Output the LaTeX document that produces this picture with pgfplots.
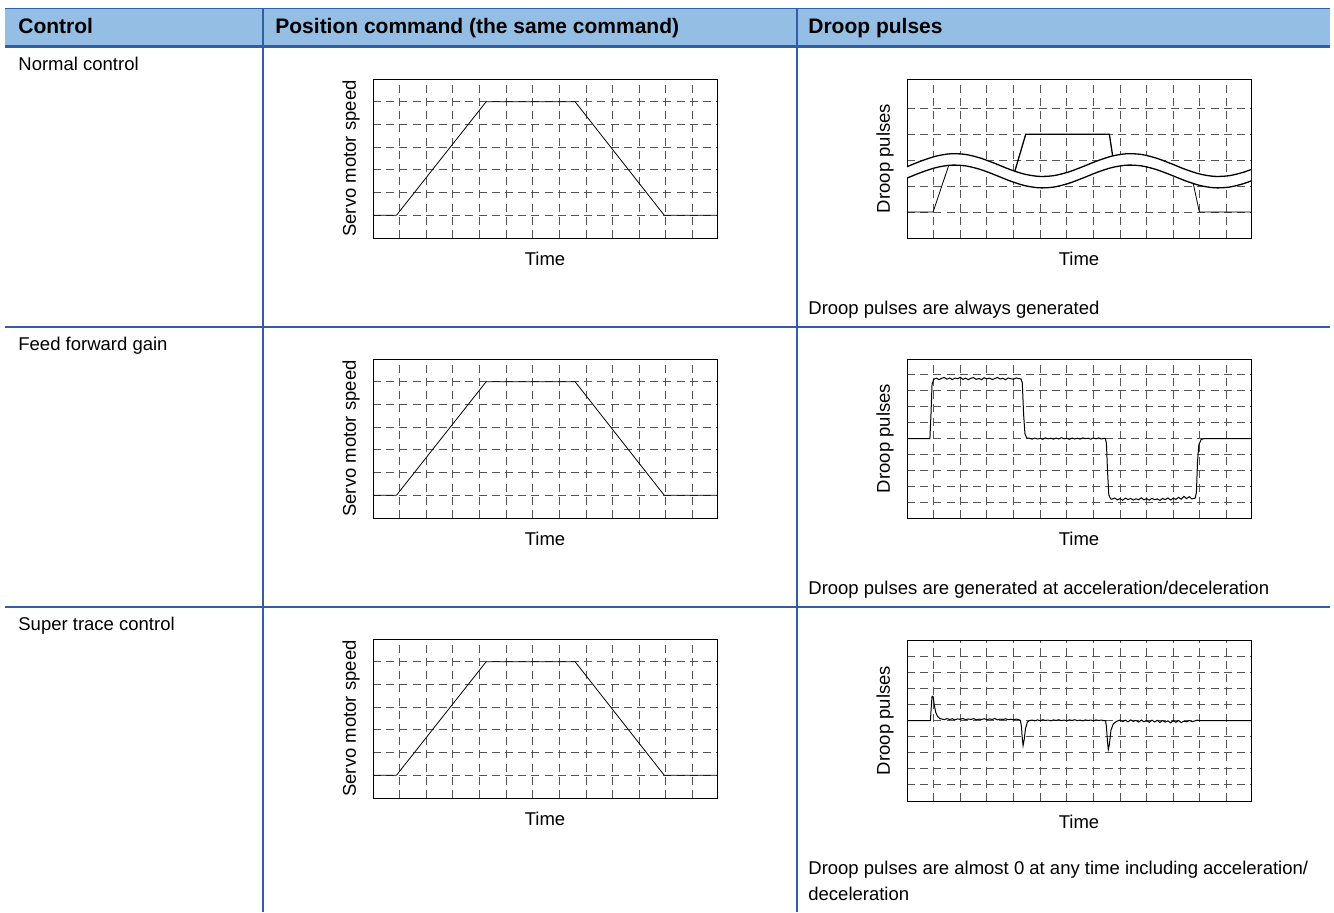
\documentclass[border=0pt]{standalone}
\usepackage{pgfplots}
\pgfplotsset{compat=1.18}
\usepackage{fontspec}
\setmainfont{Liberation Sans}
\definecolor{hdr}{RGB}{148,190,228}
\definecolor{tl}{RGB}{46,94,172}
\definecolor{gridc}{RGB}{85,85,85}
\newcommand{\bodyfont}{\fontsize{9.25}{11}\selectfont}
\pgfplotsset{
  grplot/.style={
    scale only axis, width=172pt, height=79.5pt,
    xmin=0, xmax=12.92,
    xtick={1,2,3,4,5,6,7,8,9,10,11,12}, xticklabels={}, yticklabels={},
    major tick length=0pt, tick style={draw=none},
    grid=major,
    major grid style={gridc, line width=0.5pt, dash pattern=on 4pt off 2.6pt},
    axis line style={black, line width=0.5pt},
    label style={font=\bodyfont},
    xlabel={Time},
    xlabel style={at={(axis description cs:0.5,-0.132)}, anchor=center},
    ylabel style={at={(axis description cs:-0.064,0.5)}, anchor=center},
    cycle list={{black, line width=0.65pt, mark=none}},
  },
  speed/.style={grplot, ymin=0, ymax=7, ytick={1,...,6}, ylabel={Servo motor speed}},
  droopA/.style={grplot, ymin=0, ymax=6.125, ytick={1,...,5}, ylabel={Droop pulses}},
  droopB/.style={grplot, ymin=0, ymax=10, ytick={1,...,9}, ylabel={Droop pulses}},
}
\begin{document}
\begin{tikzpicture}
\begin{scope}[x=0.5pt,y=-0.5pt]
\path[use as bounding box] (0,0) rectangle (1334,912);
\fill[hdr] (5,8) rectangle (1330,46);
\draw[tl, line width=0.5pt] (5,8) -- (1330,8);
\draw[tl, line width=1.5pt] (5,46) -- (1330,46);
\draw[tl, line width=1pt] (5,327) -- (1330,327);
\draw[tl, line width=1pt] (5,607) -- (1330,607);
\draw[tl, line width=1pt] (263,8) -- (263,912);
\draw[tl, line width=1pt] (797,8) -- (797,912);
\begin{scope}[every node/.style={inner sep=0pt, font=\fontsize{10.5}{12}\selectfont\bfseries}]
\node[anchor=base west] at (18,33) {Control};
\node[anchor=base west] at (275,33) {Position command (the same command)};
\node[anchor=base west] at (808,33) {Droop pulses};
\end{scope}
\begin{scope}[every node/.style={inner sep=0pt, font=\bodyfont}]
\node[anchor=base west] at (18,70) {Normal control};
\node[anchor=base west] at (18,350) {Feed forward gain};
\node[anchor=base west] at (18,630) {Super trace control};
\node[anchor=base west] at (808,314) {Droop pulses are always generated};
\node[anchor=base west] at (808,594) {Droop pulses are generated at acceleration/deceleration};
\node[anchor=base west] at (808,874) {Droop pulses are almost 0 at any time including acceleration/};
\node[anchor=base west] at (808,900) {deceleration};
\end{scope}
\end{scope}

% ---------- speed plots ----------
\begin{axis}[speed, at={(186.5pt,-119pt)}, anchor=south west]
\addplot coordinates {(0,1) (0.88,1) (4.25,6) (7.59,6) (10.94,1) (12.92,1)};
\end{axis}
\begin{axis}[speed, at={(186.5pt,-259pt)}, anchor=south west]
\addplot coordinates {(0,1) (0.88,1) (4.25,6) (7.59,6) (10.94,1) (12.92,1)};
\end{axis}
\begin{axis}[speed, at={(186.5pt,-399pt)}, anchor=south west]
\addplot coordinates {(0,1) (0.88,1) (4.25,6) (7.59,6) (10.94,1) (12.92,1)};
\end{axis}

% ---------- droop: normal control ----------
\begin{axis}[droopA, at={(453.5pt,-119pt)}, anchor=south west]
\addplot coordinates {(0,1) (0.98,1) (1.6,2.9)};
\addplot coordinates {(4.0,2.4) (4.46,4) (7.6,4) (7.74,3.05)};
\addplot coordinates {(10.72,2.25) (10.98,1) (12.92,1)};
\addplot[draw=white, line width=5.6pt, smooth] coordinates {
(-0.3,2.45) (0,2.527) (0.55,2.754) (1.1,2.936) (1.65,3.026) (2.2,2.999) (2.75,2.862)
(3.3,2.653) (3.85,2.426) (4.4,2.244) (4.95,2.154) (5.5,2.181) (6.05,2.318)
(6.6,2.527) (7.15,2.754) (7.7,2.936) (8.25,3.026) (8.8,2.999) (9.35,2.862)
(9.9,2.653) (10.45,2.426) (11.0,2.244) (11.55,2.154) (12.1,2.181) (12.65,2.318) (13.2,2.527)};
\addplot[black, line width=0.65pt, smooth] coordinates {
(0,2.747) (0.55,2.974) (1.1,3.156) (1.65,3.246) (2.2,3.219) (2.75,3.082)
(3.3,2.873) (3.85,2.646) (4.4,2.464) (4.95,2.374) (5.5,2.401) (6.05,2.538)
(6.6,2.747) (7.15,2.974) (7.7,3.156) (8.25,3.246) (8.8,3.219) (9.35,3.082)
(9.9,2.873) (10.45,2.646) (11.0,2.464) (11.55,2.374) (12.1,2.401) (12.65,2.538) (13.2,2.747)};
\addplot[black, line width=0.65pt, smooth] coordinates {
(0,2.307) (0.55,2.534) (1.1,2.716) (1.65,2.806) (2.2,2.779) (2.75,2.642)
(3.3,2.433) (3.85,2.206) (4.4,2.024) (4.95,1.934) (5.5,1.961) (6.05,2.098)
(6.6,2.307) (7.15,2.534) (7.7,2.716) (8.25,2.806) (8.8,2.779) (9.35,2.642)
(9.9,2.433) (10.45,2.206) (11.0,2.024) (11.55,1.934) (12.1,1.961) (12.65,2.098) (13.2,2.307)};
\end{axis}

% ---------- droop: feed forward ----------
\begin{axis}[droopB, at={(453.5pt,-259pt)}, anchor=south west]
\addplot[black, line width=0.5pt] coordinates {
(0,5) (0.86,5) (0.9,6.5) (0.94,8.4) (1.0,8.72)
(1.1,8.80) (1.2,8.70) (1.3,8.79) (1.4,8.84) (1.5,8.73) (1.6,8.81) (1.7,8.70) (1.8,8.80) (1.9,8.76) (2.0,8.85)
(2.1,8.72) (2.2,8.80) (2.3,8.70) (2.4,8.79) (2.5,8.83) (2.6,8.72) (2.7,8.78) (2.8,8.70) (2.9,8.82) (3.0,8.75)
(3.1,8.80) (3.2,8.71) (3.3,8.77) (3.4,8.84) (3.5,8.74) (3.6,8.79) (3.7,8.70) (3.8,8.81) (3.9,8.76) (4.0,8.73)
(4.1,8.81) (4.2,8.77) (4.28,8.75) (4.33,8.5) (4.38,6.5) (4.43,5.3) (4.5,5.02)
(4.6,5.02) (4.7,4.96) (4.8,5.03) (4.9,4.97) (5.0,5.01) (5.1,4.95) (5.2,5.04) (5.3,4.98) (5.4,5.02) (5.5,4.96)
(5.6,5.03) (5.7,4.97) (5.8,5.05) (5.9,4.98) (6.0,5.01) (6.1,4.95) (6.2,5.03) (6.3,4.97) (6.4,5.02) (6.5,4.96)
(6.6,5.04) (6.7,4.99) (6.8,5.02) (6.9,4.96) (7.0,5.03) (7.1,4.98) (7.2,5.04) (7.3,4.97) (7.4,5.01) (7.45,5.0)
(7.49,4.7) (7.53,3.0) (7.58,1.45) (7.65,1.2)
(7.7,1.18) (7.8,1.26) (7.9,1.14) (8.0,1.22) (8.1,1.12) (8.2,1.25) (8.3,1.16) (8.4,1.23) (8.5,1.13) (8.6,1.21)
(8.7,1.15) (8.8,1.27) (8.9,1.14) (9.0,1.22) (9.1,1.12) (9.2,1.24) (9.3,1.15) (9.4,1.20) (9.5,1.11) (9.6,1.23)
(9.7,1.16) (9.8,1.26) (9.9,1.13) (10.0,1.24) (10.1,1.17) (10.2,1.30) (10.3,1.18) (10.4,1.36) (10.5,1.22) (10.6,1.34)
(10.7,1.20) (10.82,1.25) (10.87,1.6) (10.91,3.5) (10.96,4.6) (11.05,4.95) (11.2,5.0) (12.92,5)};
\end{axis}

% ---------- droop: super trace ----------
\begin{axis}[droopB, at={(453.5pt,-400.5pt)}, anchor=south west, height=80.5pt]
\addplot[black, line width=0.5pt] coordinates {
(0,5) (0.88,5) (0.91,5.8) (0.94,6.5) (0.98,6.5) (1.02,6.0) (1.08,5.5) (1.15,5.25) (1.25,5.1)
(1.3,5.10) (1.4,5.05) (1.5,5.12) (1.6,5.06) (1.7,5.11) (1.8,5.04) (1.9,5.10) (2.0,5.07) (2.1,5.13) (2.2,5.05)
(2.3,5.10) (2.4,5.06) (2.5,5.12) (2.6,5.04) (2.7,5.09) (2.8,5.06) (2.9,5.11) (3.0,5.05) (3.1,5.10) (3.2,5.07)
(3.3,5.12) (3.4,5.04) (3.5,5.09) (3.6,5.06) (3.7,5.11) (3.8,5.05) (3.9,5.08) (4.0,5.04) (4.1,5.09) (4.2,5.05)
(4.26,5.0) (4.3,4.6) (4.33,3.9) (4.36,3.45) (4.40,3.8) (4.45,4.5) (4.52,4.9) (4.6,5.0)
(4.7,5.03) (4.8,4.98) (4.9,5.04) (5.0,4.99) (5.1,5.05) (5.2,5.00) (5.3,5.03) (5.4,4.98) (5.5,5.04) (5.6,5.00)
(5.7,5.05) (5.8,4.99) (5.9,5.03) (6.0,4.98) (6.1,5.04) (6.2,5.00) (6.3,5.05) (6.4,4.99) (6.5,5.03) (6.6,4.98)
(6.7,5.04) (6.8,5.00) (6.9,5.03) (7.0,4.98) (7.1,5.04) (7.2,5.00) (7.3,5.03) (7.4,4.99) (7.46,5.0)
(7.49,4.6) (7.53,3.7) (7.56,3.2) (7.60,3.5) (7.66,4.4) (7.75,4.8) (7.85,4.92)
(7.9,4.97) (8.0,5.03) (8.1,4.93) (8.2,5.02) (8.3,4.92) (8.4,5.04) (8.5,4.94) (8.6,5.01) (8.7,4.90) (8.8,5.03)
(8.9,4.92) (9.0,5.00) (9.1,4.89) (9.2,5.02) (9.3,4.91) (9.4,5.01) (9.5,4.88) (9.6,5.00) (9.7,4.90) (9.8,4.98)
(9.9,4.86) (10.0,4.99) (10.1,4.89) (10.2,5.00) (10.3,4.87) (10.4,4.96) (10.5,4.92) (10.6,5.00) (10.7,4.93) (10.8,4.97)
(10.9,5.02) (11.0,5.0) (12.92,5)};
\end{axis}
\end{tikzpicture}
\end{document}
